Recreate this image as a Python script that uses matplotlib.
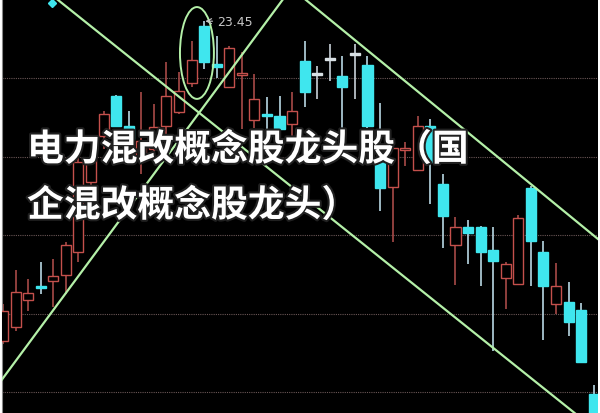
import matplotlib
matplotlib.use("Agg")
import matplotlib.pyplot as plt
import matplotlib.patheffects as pe
from matplotlib.patches import Ellipse
import numpy as np

# daily candles, left to right (price units)
opens = [15.30, 15.66, 16.34, 16.66, 16.83, 16.98, 17.57, 19.35, 20.52, 21.54,
         20.78, 19.94, 20.19, 20.78, 21.13, 21.87, 23.32, 22.36, 21.77, 22.08,
         20.93, 21.04, 21.03, 20.83, 22.43, 22.07, 22.46, 22.05, 22.59, 22.33,
         19.94, 19.22, 20.17, 19.66, 20.78, 19.30, 17.75, 18.20, 18.20, 17.62,
         16.91, 16.75, 19.20, 17.57, 16.24, 16.29, 16.09, 13.95]
highs = [16.24, 17.11, 16.88, 17.31, 17.39, 17.82, 20.01, 20.14, 21.16, 21.56,
         21.16, 21.64, 21.34, 22.41, 22.15, 22.94, 23.45, 23.07, 22.82, 22.66,
         22.10, 21.52, 21.54, 21.64, 22.94, 22.31, 22.87, 22.56, 22.87, 22.56,
         21.36, 20.37, 20.37, 21.03, 20.96, 19.55, 18.46, 18.38, 18.23, 18.20,
         17.31, 18.51, 19.25, 17.85, 17.29, 16.80, 16.27, 14.18]
lows = [15.22, 15.55, 16.06, 16.50, 16.17, 16.50, 17.31, 19.17, 20.19, 20.75,
        20.24, 19.55, 19.94, 20.45, 21.08, 21.77, 22.23, 22.00, 21.77, 20.70,
        20.73, 20.62, 20.52, 20.45, 21.26, 21.47, 21.92, 20.68, 21.47, 20.73,
        18.61, 17.82, 19.76, 19.66, 18.79, 17.67, 16.73, 17.26, 16.70, 15.04,
        16.11, 16.74, 16.70, 15.33, 15.99, 15.43, 14.76, 13.20]
closes = [16.06, 16.55, 16.52, 16.65, 16.96, 17.75, 19.86, 19.94, 21.08, 20.78,
          20.45, 20.39, 20.75, 21.54, 21.67, 22.46, 22.41, 22.28, 22.76, 22.09,
          21.47, 21.03, 20.70, 21.16, 21.64, 22.07, 22.46, 21.77, 22.59, 20.78,
          19.20, 20.22, 20.18, 20.78, 19.86, 18.48, 18.20, 18.05, 17.57, 17.34,
          17.26, 18.43, 17.85, 16.70, 16.70, 15.78, 14.76, 13.30]

grid_prices = [14, 16, 18, 20, 22]
peak_label = "23.45"
title_lines = ["电力混改概念股龙头股（国", "企混改概念股龙头）"]

# hand-drawn trend lines (index, price) and the circle round the peak
trend_lines = [
    ([4.30, 45.50], [24.01, 13.46]),
    ([-0.24, 22.28], [14.25, 24.01]),
    ([24.03, 47.60], [24.01, 17.83]),
]
circle_center = (15.43, 22.64)
marker_pt = (3.9, 23.91)

UP = "#c4504c"
DOWN = "#3fe6ee"
LINE = "#b4f0a8"

fig = plt.figure(figsize=(6, 4.14), dpi=100, facecolor="white")
ax = fig.add_axes([2 / 600, 0, 596 / 600, 413 / 414])
ax.set_facecolor("black")

x = np.arange(len(opens))
o = np.array(opens)
c = np.array(closes)
h = np.array(highs)
l = np.array(lows)

body_col = []
wick_col = []
face_col = []
for oi, ci in zip(o, c):
    if ci > oi:
        body_col.append(UP); wick_col.append("#a84a48"); face_col.append("black")
    elif ci < oi:
        body_col.append(DOWN); wick_col.append("#b8d8e4"); face_col.append(DOWN)
    else:
        body_col.append("#d8e0e4"); wick_col.append("#c8d0d8"); face_col.append("#d8e0e4")

ax.vlines(x, l, h, colors=wick_col, linewidth=1.2, zorder=2)
bottoms = np.minimum(o, c)
heights = np.maximum(np.abs(c - o), 0.05)
ax.bar(x, heights, bottom=bottoms, width=0.8, color=face_col,
       edgecolor=body_col, linewidth=1.0, zorder=3)

ax.plot(*marker_pt, marker="D", color=DOWN, markersize=4, zorder=4)

for xs, ys in trend_lines:
    ax.plot(xs, ys, color=LINE, linewidth=1.6, zorder=5)
ax.add_patch(Ellipse(circle_center, 2.7, 2.34, fill=False, edgecolor=LINE,
                     linewidth=1.4, zorder=5))

ax.annotate(peak_label, xy=(16.1, highs[16]), xytext=(17.0, highs[16]),
            color="#c8c8c8", fontsize=9, va="center", ha="left",
            arrowprops=dict(arrowstyle="->", color="#c8c8c8", lw=0.8,
                            shrinkA=1, shrinkB=0), zorder=6)

ax.set_xlim(-0.08, 47.34)
ax.set_ylim(13.465, 23.99)
ax.set_yticks(grid_prices)
ax.set_xticks([])
ax.tick_params(length=0, labelleft=False)
ax.grid(axis="y", color="#6a5656", linestyle=(0, (1, 1)), linewidth=0.8)
ax.set_axisbelow(True)
for side in ["top", "bottom", "right"]:
    ax.spines[side].set_visible(False)
ax.spines["left"].set_color("#888888")

stroke = [pe.withStroke(linewidth=3, foreground="#202020")]
for k, line in enumerate(title_lines):
    fig.text(27 / 600, 1 - (151 + 56 * k) / 414, line, color="white",
             fontsize=26.5, fontweight="bold", ha="left", va="center",
             family=["Noto Sans CJK SC", "DejaVu Sans"], path_effects=stroke,
             zorder=10)

fig.savefig("out.png", dpi=100, facecolor=fig.get_facecolor())
